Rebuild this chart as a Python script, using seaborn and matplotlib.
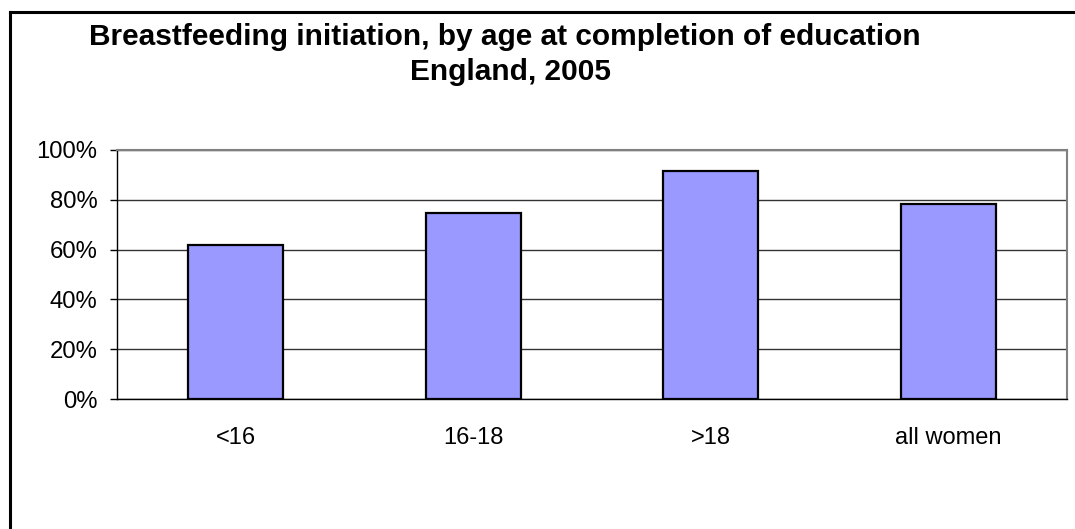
import pandas as pd
import matplotlib.pyplot as plt
import seaborn as sns
from matplotlib.lines import Line2D
from matplotlib.ticker import FixedLocator

# Data
groups = ['<16', '16-18', '>18', 'all women']
pct = [62, 74.7, 91.6, 78.2]

df = pd.DataFrame({'group': groups, 'pct': pct})

sns.set_style('white')
plt.rcParams['font.family'] = ['Liberation Sans', 'DejaVu Sans']
plt.rcParams['text.color'] = 'black'
plt.rcParams['xtick.labelcolor'] = 'black'
plt.rcParams['ytick.labelcolor'] = 'black'

fig = plt.figure(figsize=(10.75, 5.29), dpi=100)
ax = fig.add_axes([117 / 1075, 1 - 399 / 529, 950 / 1075, 249 / 529])

sns.barplot(data=df, x='group', y='pct', color='#9999FF', saturation=1,
            width=0.4, edgecolor='black', linewidth=1.6, ax=ax, zorder=3)

ax.set_xlim(-0.5, 3.5)
ax.set_ylim(0, 100)
ax.set_yticks(range(0, 101, 20))
ax.set_yticklabels([f'{v}%' for v in range(0, 101, 20)])
ax.set_xlabel('')
ax.set_ylabel('')

# category boundary ticks like Excel
ax.xaxis.set_minor_locator(FixedLocator([-0.5, 0.5, 1.5, 2.5, 3.5]))
ax.tick_params(axis='x', which='major', length=0, pad=20, labelsize=17, labelcolor='black')
ax.tick_params(axis='x', which='minor', length=5, width=1, color='black', direction='out')
ax.tick_params(axis='y', length=5, width=1, color='black', direction='out', pad=9,
               labelsize=17.2, labelcolor='black')
ax.tick_params(bottom=True, left=True)

ax.grid(axis='y', color='#333333', linewidth=1, zorder=0)
ax.set_axisbelow(True)
for s in ['left', 'bottom']:
    ax.spines[s].set_color('black')
    ax.spines[s].set_linewidth(1)
for s in ['top', 'right']:
    ax.spines[s].set_color('#808080')
    ax.spines[s].set_linewidth(1.5)

# title
fig.text(504.5 / 1075, 1 - 45 / 529, 'Breastfeeding initiation, by age at completion of education',
         ha='center', va='baseline', fontsize=21.5, fontweight='bold', color='black')
fig.text(510 / 1075, 1 - 80 / 529, 'England, 2005',
         ha='center', va='baseline', fontsize=21.5, fontweight='bold', color='black')

# chart area border (left and top visible)
fig.add_artist(Line2D([9.5 / 1075, 9.5 / 1075], [0, 1 - 11.5 / 529], color='black', linewidth=2.2,
                      transform=fig.transFigure, solid_capstyle='projecting'))
fig.add_artist(Line2D([9.5 / 1075, 1], [1 - 11.5 / 529, 1 - 11.5 / 529], color='black', linewidth=2.2,
                      transform=fig.transFigure, solid_capstyle='projecting'))

fig.savefig('out.png', dpi=100)
